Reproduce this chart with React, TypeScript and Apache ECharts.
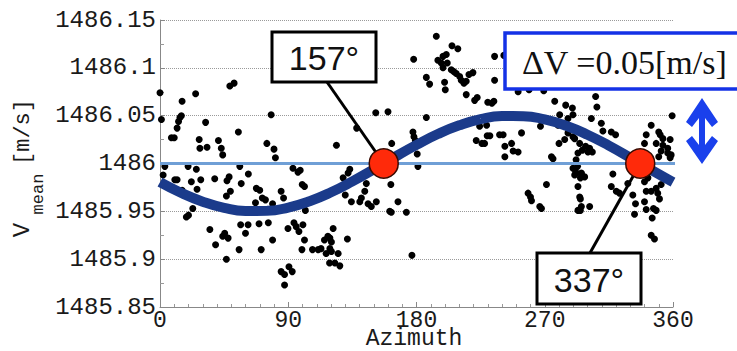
import React, { useEffect, useRef } from "react";
import * as echarts from "echarts";

// Axis ticks and titles
const X_TICKS = [0, 90, 180, 270, 360];
const Y_TICKS = [1485.85, 1485.9, 1485.95, 1486, 1486.05, 1486.1, 1486.15];
const X_TITLE = "Azimuth";

// Reference sound speed level and the azimuths where the fit crosses it
const REF_LEVEL = 1486;
const REF_LINE_X = [0, 364];
const CROSSINGS = [157, 337];
const DELTA_V_TEXT = "ΔV =0.05[m/s]";

// Fitted sinusoid, sampled every 15 degrees
const FIT_AZIMUTH = [0, 15, 30, 45, 60, 75, 90, 105, 120, 135, 150, 165, 180, 195, 210, 225, 240, 255, 270, 285, 300, 315, 330, 345, 360];
const FIT_VMEAN = [
  1485.9805, 1485.9692, 1485.9601, 1485.9536, 1485.9504, 1485.9505, 1485.954, 1485.9606, 1485.9699,
  1485.9813, 1485.9939, 1486.007, 1486.0195, 1486.0308, 1486.0399, 1486.0464, 1486.0496, 1486.0495,
  1486.046, 1486.0394, 1486.0301, 1486.0187, 1486.0061, 1485.993, 1485.9805,
];

// Measured mean sound speed per azimuth [deg, m/s]
const SAMPLES: [number, number][] = [
  [0, 1486.074], [1, 1486.046], [8, 1486.027], [10, 1486.027], [12, 1486.037], [13, 1486.044], [14, 1486.048],
  [15, 1486.05], [15.5, 1486.065], [25, 1486.073], [27.5, 1486.025], [28, 1486.016], [32, 1486.043], [33, 1486.017],
  [41, 1486.024], [43, 1486.016], [44, 1486.009], [49, 1486.081], [52, 1486.084], [55, 1486.033], [75, 1486.021],
  [78, 1486.051], [80, 1486.015], [81, 1486.006],
  [3.4, 1485.997], [2.2, 1485.988], [10.4, 1485.983], [12, 1485.983], [19.7, 1485.997], [25.5, 1485.994],
  [22, 1485.981], [26, 1485.973], [28.6, 1485.983], [23, 1485.953], [18.5, 1485.944], [20, 1485.946],
  [38.4, 1485.984], [47, 1485.982], [48.5, 1485.986], [56, 1485.997], [62, 1485.989], [57, 1485.979],
  [46.6, 1485.966], [49.4, 1485.971], [35, 1485.931], [39, 1485.915], [44, 1485.924], [45.4, 1485.927],
  [47.8, 1485.922], [46.6, 1485.9], [55.5, 1485.91], [56.6, 1485.936], [61.8, 1485.936], [60, 1485.927],
  [69.5, 1485.937], [76, 1485.938], [71, 1485.91], [79, 1485.92], [67.6, 1485.974], [70, 1485.972],
  [71.8, 1485.964], [74, 1485.962], [67, 1485.959], [79, 1485.958], [85, 1485.971], [86.7, 1485.964],
  [93.3, 1485.995], [96.8, 1485.991], [98.4, 1485.993], [99.8, 1485.978], [101.4, 1485.976], [102, 1485.951],
  [89.8, 1485.932], [94, 1485.938], [95.6, 1485.934], [97.5, 1485.929], [100.3, 1485.936], [101.4, 1485.92],
  [99.6, 1485.91], [85, 1485.887], [87.4, 1485.884], [90.5, 1485.892], [92.8, 1485.887], [87.4, 1485.873],
  [107, 1485.91], [111, 1485.91], [113, 1485.911], [115.4, 1485.92], [117.8, 1485.924], [116.6, 1485.906],
  [119, 1485.896], [15.5, 1485.972],
  [121.5, 1485.932], [119.2, 1485.922], [120.3, 1485.918], [119.2, 1485.911], [120.3, 1485.908], [125, 1485.906],
  [122.7, 1485.896], [126.2, 1485.893], [131.5, 1485.921], [176.8, 1485.904], [128.5, 1485.985], [132, 1485.99],
  [133.2, 1485.994], [130, 1485.967], [134.3, 1485.96], [140.2, 1485.96], [141.3, 1485.964], [143.7, 1485.971],
  [144.8, 1485.979], [146, 1485.958], [148.3, 1485.955], [151.8, 1485.96], [161.2, 1485.95], [162.3, 1485.949],
  [172.9, 1485.949], [167, 1485.96], [162, 1485.978], [181, 1485.997],
  [123.8, 1486.019], [151.4, 1486.053], [160, 1486.054], [138, 1486.037], [162.6, 1486.021], [177.5, 1486.033],
  [178.2, 1486.028], [179.2, 1486.024], [180.5, 1486.01], [186.9, 1486.048], [193.9, 1486.133], [204.9, 1486.123],
  [209, 1486.12], [178, 1486.109], [195, 1486.108], [197.4, 1486.105], [198.6, 1486.112], [200.9, 1486.114],
  [201.6, 1486.105], [198.6, 1486.1], [204.4, 1486.098], [206.3, 1486.096], [207.9, 1486.094], [210.3, 1486.091],
  [211.4, 1486.087], [213.3, 1486.084], [214.9, 1486.086], [216.8, 1486.093], [219.6, 1486.095], [186.9, 1486.09],
  [189.2, 1486.083], [199.7, 1486.085], [200.2, 1486.077], [214.9, 1486.072], [220.8, 1486.066], [222.6, 1486.069],
  [230, 1486.064], [234.3, 1486.065], [232.9, 1486.063], [234.8, 1486.087], [234.8, 1486.112], [224.3, 1486.039],
  [221.9, 1486.024], [225.9, 1486.021], [227.8, 1486.021], [229.6, 1486.029], [238.3, 1486.03],
  [241.3, 1486.113], [251.3, 1486.075], [259, 1486.077], [269.3, 1486.076], [305.7, 1486.07], [306.6, 1486.059],
  [277, 1486.065], [284.7, 1486.061], [289.4, 1486.058], [280.5, 1486.051], [286.3, 1486.047], [289.8, 1486.051],
  [302.7, 1486.047], [267, 1486.039], [309.7, 1486.042], [310.8, 1486.034], [316.7, 1486.033], [319.7, 1486.03],
  [359.4, 1486.05], [344.7, 1486.04], [350, 1486.033], [351, 1486.03], [352.9, 1486.026], [358, 1486.025],
  [356.3, 1486.016], [341.2, 1486.03], [340, 1486.021], [348.2, 1486.021], [352.9, 1486.019], [351.7, 1486.013],
  [356.3, 1486.011], [358.7, 1486.009], [358, 1486.006], [350, 1486.007], [240.8, 1486.03], [246.7, 1486.021],
  [247.8, 1486.013], [253.7, 1486.032], [251.3, 1486.012], [242, 1486.018], [280, 1486.021], [284, 1486.025],
  [291, 1486.026], [294.5, 1486.021], [296.4, 1486.014], [300.3, 1486.012], [293.3, 1486.011], [275.8, 1486.005],
  [229.2, 1486.04], [231.5, 1486.029], [242, 1486.007], [274.7, 1486.007], [279.3, 1486.04], [286.3, 1486.032],
  [289.8, 1486.028], [298.7, 1486.018], [301.5, 1486.016], [303.4, 1486.012], [292, 1486.004], [293, 1485.997],
  [295.7, 1485.99], [291, 1485.988],
  [289.8, 1485.995], [291.7, 1485.991], [295.7, 1485.989], [295, 1485.985], [298, 1485.986], [271.2, 1485.978],
  [258.3, 1485.969], [260, 1485.965], [260.7, 1485.961], [266.5, 1485.955], [267.7, 1485.953], [293.3, 1485.976],
  [294.5, 1485.965], [295, 1485.963], [295.7, 1485.955], [293.3, 1485.951], [295, 1485.951], [301.5, 1485.955],
  [317.8, 1485.989], [316.7, 1485.976], [320.2, 1485.971], [322.5, 1485.969], [328.3, 1485.979], [331.8, 1485.967],
  [333.7, 1485.958], [333, 1485.947], [341.2, 1485.971], [344.7, 1485.971], [340, 1485.96], [349.3, 1485.969],
  [350.5, 1485.963], [348.2, 1485.951], [346.3, 1485.953], [341.2, 1485.952], [345.4, 1485.943], [351.7, 1485.978],
  [348.2, 1485.974], [344.7, 1485.925], [347, 1485.921], [340, 1485.981], [342.4, 1485.985],
];

const MONO = "'Liberation Mono', 'DejaVu Sans Mono', monospace";
const SANS = "'Liberation Sans', Arial, sans-serif";
const SERIF = "'Liberation Serif', 'Times New Roman', serif";

export default function App() {
  const ref = useRef<HTMLDivElement>(null);

  useEffect(() => {
    if (!ref.current) return;
    const chart = echarts.init(ref.current, undefined, { renderer: "svg" });

    chart.setOption({
      animation: false,
      backgroundColor: "#ffffff",
      grid: { left: 160, right: 64, top: 20, bottom: 44, outerBoundsMode: "none", containLabel: false },
      xAxis: {
        type: "value",
        min: X_TICKS[0],
        max: X_TICKS[X_TICKS.length - 1],
        interval: X_TICKS[1] - X_TICKS[0],
        axisLine: { show: true, lineStyle: { color: "#888", width: 1 } },
        axisTick: { show: true, inside: true, length: 5, lineStyle: { color: "#888" } },
        minorTick: { show: true, splitNumber: 9, length: 3, lineStyle: { color: "#999" } },
        axisLabel: { fontFamily: MONO, fontSize: 23, lineHeight: 18, color: "#1a1a1a", margin: 5 },
        splitLine: { show: false },
      },
      yAxis: {
        type: "value",
        min: Y_TICKS[0],
        max: Y_TICKS[Y_TICKS.length - 1],
        interval: 0.05,
        axisLine: { show: true, lineStyle: { color: "#888", width: 1 } },
        axisTick: { show: true, inside: true, length: 5, lineStyle: { color: "#888" } },
        minorTick: { show: true, splitNumber: 2, length: 4, lineStyle: { color: "#999" } },
        axisLabel: {
          fontFamily: MONO,
          fontSize: 24,
          color: "#1a1a1a",
          margin: 4,
          formatter: (v: number) => String(+v.toFixed(2)),
        },
        splitLine: { show: true, lineStyle: { color: "#9a9a9a", type: "dotted", width: 1 } },
      },
      series: [
        {
          type: "scatter",
          data: SAMPLES,
          symbol: "circle",
          symbolSize: 7,
          itemStyle: { color: "#000", opacity: 1 },
          z: 2,
        },
        {
          type: "line",
          data: REF_LINE_X.map((x) => [x, REF_LEVEL]),
          symbol: "none",
          clip: false,
          lineStyle: { color: "#6f9fd6", width: 3 },
          z: 3,
        },
        {
          type: "line",
          data: FIT_AZIMUTH.map((x, i) => [x, FIT_VMEAN[i]]),
          symbol: "none",
          smooth: true,
          lineStyle: { color: "#1b3b8b", width: 10, cap: "butt" },
          z: 4,
        },
        {
          type: "scatter",
          data: CROSSINGS.map((x) => [x, REF_LEVEL]),
          symbol: "circle",
          symbolSize: 29,
          itemStyle: { color: "#ff2a0a", borderColor: "#3a0a00", borderWidth: 1.5, opacity: 1 },
          z: 6,
        },
      ],
    });

    const p1 = chart.convertToPixel({ xAxisIndex: 0, yAxisIndex: 0 }, [CROSSINGS[0], REF_LEVEL]) as number[];
    const p2 = chart.convertToPixel({ xAxisIndex: 0, yAxisIndex: 0 }, [CROSSINGS[1], REF_LEVEL]) as number[];

    const boxText = (x: number, y: number, text: string) => ({
      type: "text",
      x,
      y,
      z: 8,
      style: {
        text,
        fill: "#111",
        font: `34px ${SANS}`,
        textAlign: "center",
        textVerticalAlign: "middle",
      },
    });

    chart.setOption({
      graphic: [
        // x-axis title
        {
          type: "text", x: 414, y: 339, z: 8,
          style: {
            text: X_TITLE, fill: "#1a1a1a", font: `23px ${MONO}`, lineHeight: 18,
            textAlign: "center", textVerticalAlign: "middle",
          },
        },
        // y-axis title: V_mean [m/s]
        {
          type: "text", x: 22, y: 230, rotation: Math.PI / 2, z: 8,
          style: { text: "V", fill: "#1a1a1a", font: `24px ${MONO}`, textAlign: "center", textVerticalAlign: "middle" },
        },
        {
          type: "text", x: 38, y: 194, rotation: Math.PI / 2, z: 8,
          style: { text: "mean", fill: "#1a1a1a", font: `17px ${MONO}`, textAlign: "center", textVerticalAlign: "middle" },
        },
        {
          type: "text", x: 23, y: 132, rotation: Math.PI / 2, z: 8,
          style: { text: "[m/s]", fill: "#1a1a1a", font: `22px ${MONO}`, textAlign: "center", textVerticalAlign: "middle" },
        },
        // leader lines to the crossing markers
        { type: "line", z: 5, shape: { x1: 327, y1: 82, x2: p1[0], y2: p1[1] }, style: { stroke: "#000", lineWidth: 3 } },
        { type: "line", z: 5, shape: { x1: 590, y1: 253, x2: p2[0], y2: p2[1] }, style: { stroke: "#000", lineWidth: 3 } },
        // crossing labels
        { type: "rect", z: 7, shape: { x: 272, y: 32, width: 104, height: 50 }, style: { fill: "#fff", stroke: "#000", lineWidth: 3 } },
        boxText(324, 58, `${CROSSINGS[0]}°`),
        { type: "rect", z: 7, shape: { x: 537, y: 253, width: 104, height: 51 }, style: { fill: "#fff", stroke: "#000", lineWidth: 3 } },
        boxText(589, 280, `${CROSSINGS[1]}°`),
        // amplitude label
        { type: "rect", z: 7, shape: { x: 505, y: 33, width: 240, height: 56 }, style: { fill: "#fff", stroke: "#1432e6", lineWidth: 3.5 } },
        {
          type: "text", x: 522, y: 62, z: 8,
          style: { text: DELTA_V_TEXT, fill: "#111", font: `34px ${SERIF}`, textAlign: "left", textVerticalAlign: "middle" },
        },
        // double-headed arrow
        {
          type: "polygon",
          z: 8,
          shape: {
            points: [
              [702, 98], [718, 122], [712, 127], [705, 118], [705, 145], [712, 136], [718, 141],
              [702, 164], [686, 141], [692, 136], [699, 145], [699, 118], [692, 127], [686, 122],
            ],
          },
          style: { fill: "#1a40ec" },
        },
      ],
    });

    return () => chart.dispose();
  }, []);

  return (
    <div
      ref={ref}
      style={{ position: "absolute", left: 0, top: 0, width: 737, height: 351, background: "#fff" }}
    />
  );
}
